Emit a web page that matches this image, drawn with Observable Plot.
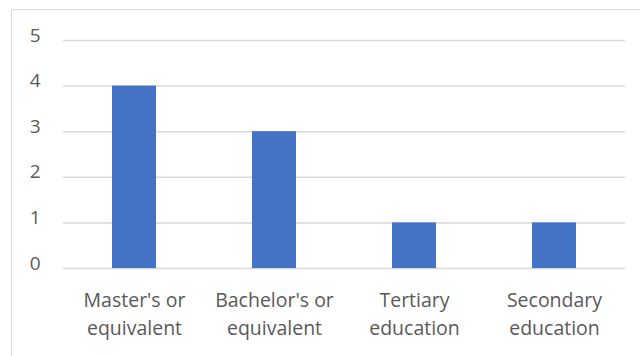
<!DOCTYPE html>
<html>
<head>
<meta charset="utf-8">
<script src="https://cdn.jsdelivr.net/npm/d3@7"></script>
<script src="https://cdn.jsdelivr.net/npm/@observablehq/plot@0.6"></script>
<style>
  html, body { margin: 0; padding: 0; background: #fff; overflow: hidden; }
  #wrap { position: relative; width: 640px; height: 356px; }
  #border { position: absolute; left: 11px; top: 9px; width: 700px; height: 400px; border: 1.5px solid #d9d9d9; box-sizing: border-box; }
  #chart { position: absolute; left: 0; top: 0; }
</style>
</head>
<body>
<div id="wrap"><div id="border"></div><div id="chart"></div></div>
<script>
const categories = ["Master's or\nequivalent", "Bachelor's or\nequivalent", "Tertiary\neducation", "Secondary\neducation"];
const counts = [4, 3, 1, 1];
const yTicks = [0, 1, 2, 3, 4, 5];

const data = categories.map((c, i) => ({category: c, value: counts[i]}));
const font = "'Open Sans', Lato, sans-serif";

const chart = Plot.plot({
  width: 640,
  height: 356,
  marginLeft: 63,
  marginRight: 15,
  marginTop: 40,
  marginBottom: 88,
  style: {fontFamily: font, background: "transparent"},
  x: {domain: categories, paddingInner: 0.687, paddingOuter: 0.3435},
  y: {domain: [0, 5]},
  marks: [
    Plot.gridY(yTicks, {stroke: "#d9d9d9", strokeOpacity: 1, strokeWidth: 1.5}),
    Plot.barY(data, {x: "category", y: "value", fill: "#4472c4"}),
    Plot.axisY(yTicks, {tickSize: 0, tickPadding: 23, dy: -5, fontSize: 19, fill: "#595959", label: null}),
    Plot.axisX({tickSize: 0, tickPadding: 19, fontSize: 19.5, fill: "#595959", lineHeight: 1.42, label: null})
  ]
});
document.getElementById("chart").appendChild(chart);
</script>
</body>
</html>
